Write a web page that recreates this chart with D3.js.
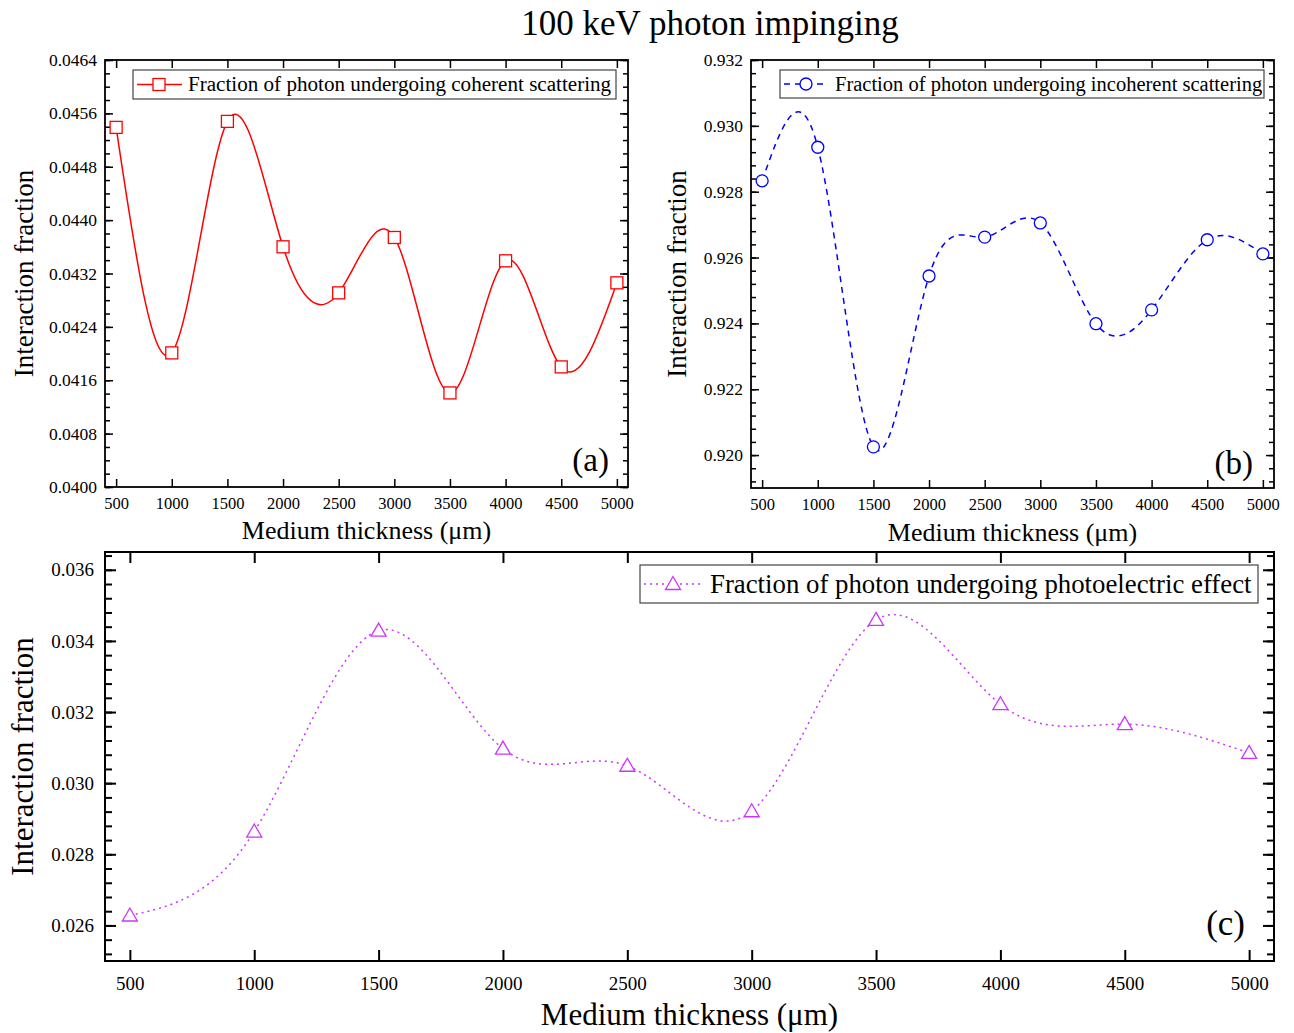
<!DOCTYPE html>
<html><head><meta charset="utf-8">
<script src="https://cdn.jsdelivr.net/npm/d3@7"></script>
<style>body{margin:0;background:#fff}svg{display:block}text{font-family:"Liberation Serif","Times New Roman",serif;fill:#000}</style>
</head><body>
<svg id="c" width="1294" height="1033"></svg>
<script>
const thickness = [500,1000,1500,2000,2500,3000,3500,4000,4500,5000];
const coherent = [0.04539,0.04201,0.04548,0.04360,0.04291,0.04374,0.04141,0.04339,0.04180,0.04306];
const incoherent = [0.92833,0.92935,0.92025,0.92544,0.92662,0.92705,0.92399,0.92441,0.92654,0.92611];
const photoelectric = [0.02628,0.02864,0.03429,0.03097,0.03049,0.02921,0.03459,0.03222,0.03166,0.03085];
const xTicks = [500,1000,1500,2000,2500,3000,3500,4000,4500,5000];
const yTicksA = [0.0400,0.0408,0.0416,0.0424,0.0432,0.0440,0.0448,0.0456,0.0464];
const yTicksB = [0.920,0.922,0.924,0.926,0.928,0.930,0.932];
const yTicksC = [0.026,0.028,0.030,0.032,0.034,0.036];

const svg = d3.select("#c");
svg.append("text").attr("x",710).attr("y",35).attr("text-anchor","middle").style("font-size","35px").text("100 keV photon impinging");

function panel(o){
  const g = svg.append("g");
  const x = d3.scaleLinear().domain([400,5100]).range([o.l,o.r]);
  const y = d3.scaleLinear().domain(o.yd).range([o.b,o.t]);
  const minor = d3.range(Math.round((o.yd[0])/o.minStep), Math.round(o.yd[1]/o.minStep)+1).map(k=>k*o.minStep).filter(v=>v>=o.yd[0]-1e-12&&v<=o.yd[1]+1e-12);
  const sty = sel => { sel.attr("font-family",null).attr("font-size",null); sel.select(".domain").remove(); sel.selectAll("line").attr("stroke","#000").attr("stroke-width",o.sw); };
  g.append("g").attr("transform",`translate(${o.l},0)`).call(d3.axisLeft(y).tickValues(minor).tickSize(-o.minLen).tickFormat("")).call(sty);
  g.append("g").attr("transform",`translate(${o.r},0)`).call(d3.axisRight(y).tickValues(minor).tickSize(-o.minLen).tickFormat("")).call(sty);
  const la = g.append("g").attr("transform",`translate(${o.l},0)`).call(d3.axisLeft(y).tickValues(o.yt).tickSize(-o.majLen).tickPadding(o.ypad).tickFormat(d3.format(o.fmt))).call(sty);
  la.selectAll("text").style("font-size",o.tfs+"px").style("font-family","'Liberation Serif', serif");
  g.append("g").attr("transform",`translate(${o.r},0)`).call(d3.axisRight(y).tickValues(o.yt).tickSize(-o.majLen).tickFormat("")).call(sty);
  const bx = g.append("g").attr("transform",`translate(0,${o.b})`).call(d3.axisBottom(x).tickValues(xTicks).tickSize(-o.xmajLen).tickPadding(o.xpad).tickFormat(d3.format("d"))).call(sty);
  bx.selectAll("text").style("font-size",o.xfs+"px").style("font-family","'Liberation Serif', serif").attr("dy","0.71em");
  g.append("g").attr("transform",`translate(0,${o.t})`).call(d3.axisTop(x).tickValues(xTicks).tickSize(-o.xmajLen).tickFormat("")).call(sty);
  g.append("rect").attr("x",o.l).attr("y",o.t).attr("width",o.r-o.l).attr("height",o.b-o.t).attr("fill","none").attr("stroke","#000").attr("stroke-width",o.fw);
  const pts = thickness.map((t,i)=>[t,o.data[i]]);
  const line = d3.line().x(d=>x(d[0])).y(d=>y(d[1])).curve(d3.curveNatural);
  g.append("path").attr("d",line(pts)).attr("fill","none").attr("stroke",o.color).attr("stroke-width",o.lw).attr("stroke-dasharray",o.dash);
  const marker = (sel,cx,cy)=>{
    if(o.sym==="square") sel.append("rect").attr("x",cx-6).attr("y",cy-6).attr("width",12).attr("height",12).attr("fill","#fff").attr("stroke",o.color).attr("stroke-width",1.3);
    else if(o.sym==="circle") sel.append("circle").attr("cx",cx).attr("cy",cy).attr("r",6).attr("fill","#fff").attr("stroke",o.color).attr("stroke-width",1.3);
    else sel.append("path").attr("d",`M${cx},${cy-7.5}L${cx+7.5},${cy+5.5}L${cx-7.5},${cy+5.5}Z`).attr("fill","#fff").attr("stroke",o.color).attr("stroke-width",1.3);
  };
  pts.forEach(p=>marker(g,x(p[0]),y(p[1])));
  const L=o.leg;
  g.append("rect").attr("x",L.x).attr("y",L.y).attr("width",L.w).attr("height",L.h).attr("fill","#fff").attr("stroke","#444").attr("stroke-width",1.2);
  const my = L.y+L.h/2;
  g.append("line").attr("x1",L.x+4).attr("x2",L.sx).attr("y1",my).attr("y2",my).attr("stroke",o.color).attr("stroke-width",o.lw).attr("stroke-dasharray",o.dash);
  marker(g,L.mx,my);
  g.append("text").attr("x",L.tx).attr("y",my).attr("dy","0.33em").style("font-size",L.fs+"px").text(L.text);
  g.append("text").attr("x",o.r-o.pdx).attr("y",o.b-o.pdy).attr("text-anchor","end").style("font-size",o.pfs+"px").text(o.tag);
  g.append("text").attr("transform",`translate(${o.ytx},${(o.t+o.b)/2}) rotate(-90)`).attr("text-anchor","middle").style("font-size",o.afs+"px").text("Interaction fraction");
  g.append("text").attr("x",(o.l+o.r)/2).attr("y",o.xty).attr("text-anchor","middle").style("font-size",o.xafs+"px").text("Medium thickness (\u03bcm)");
}

panel({l:105,r:628,t:60,b:487,yd:[0.0400,0.0464],yt:yTicksA,minStep:0.0002,fmt:".4f",data:coherent,color:"#ff0000",lw:1.5,dash:null,sym:"square",
  sw:1.5,fw:1.8,majLen:8,minLen:5,xmajLen:8,ypad:8,xpad:10,tfs:17.5,xfs:16.5,pfs:33,tag:"(a)",pdx:19,pdy:16,ytx:33,afs:27,xty:539,xafs:26,
  leg:{x:133,y:70,w:483,h:29,sx:182,mx:159,tx:188,fs:21.1,text:"Fraction of photon undergoing coherent scattering"}});
panel({l:751,r:1274,t:60,b:488,yd:[0.919,0.932],yt:yTicksB,minStep:0.0004,fmt:".3f",data:incoherent,color:"#0000ff",lw:1.5,dash:"6,5",sym:"circle",
  sw:1.5,fw:1.8,majLen:8,minLen:5,xmajLen:8,ypad:8,xpad:10,tfs:17.5,xfs:16.5,pfs:33,tag:"(b)",pdx:21,pdy:14,ytx:686,afs:27,xty:541,xafs:26,
  leg:{x:780,y:70,w:484,h:28,sx:828,mx:806,tx:835,fs:20.5,text:"Fraction of photon undergoing incoherent scattering"}});
panel({l:105,r:1274,t:552,b:961,yd:[0.025,0.0365],yt:yTicksC,minStep:0.0004,fmt:".3f",data:photoelectric,color:"#cc33ff",lw:1.5,dash:"2,4",sym:"triangle",
  sw:2,fw:2,majLen:11,minLen:7,xmajLen:11,ypad:11,xpad:16,tfs:19,xfs:19,pfs:35,tag:"(c)",pdx:29,pdy:26,ytx:33,afs:31,xty:1025,xafs:31,
  leg:{x:640,y:565,w:618,h:38,sx:700,mx:673,tx:710,fs:26.8,text:"Fraction of photon undergoing photoelectric effect"}});
</script>
</body></html>
